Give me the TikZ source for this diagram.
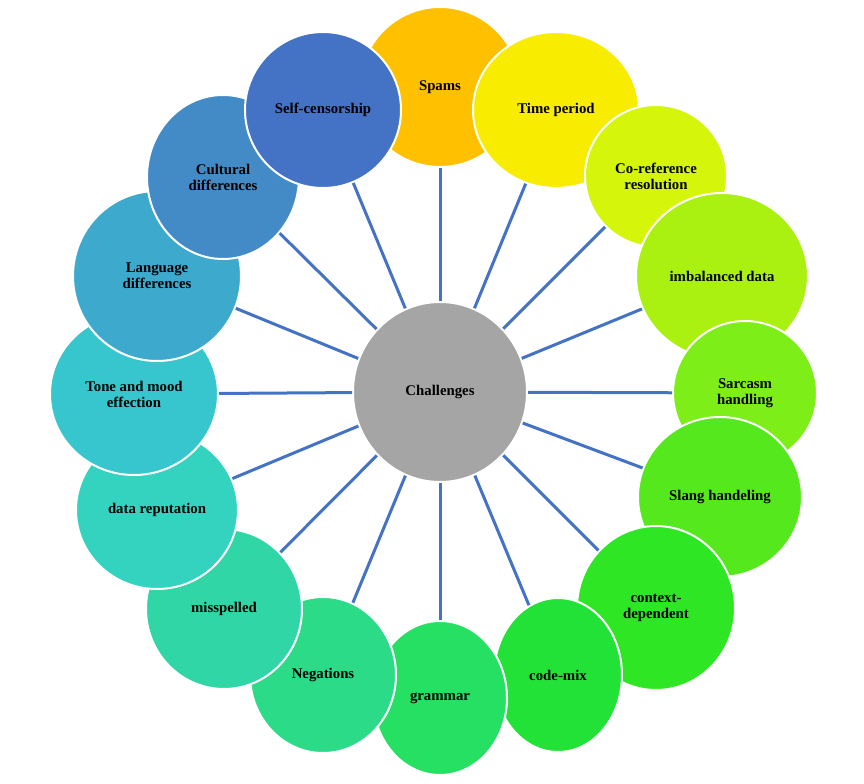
\documentclass[tikz,border=0pt]{standalone}
\usepackage{fontspec}
\setmainfont{Liberation Serif}
\usetikzlibrary{shapes.geometric}
\definecolor{cSp}{HTML}{FFC000}
\definecolor{cTP}{HTML}{F8EC00}
\definecolor{cCR}{HTML}{D5F50B}
\definecolor{cID}{HTML}{AAF011}
\definecolor{cSH}{HTML}{7DEE18}
\definecolor{cSL}{HTML}{55E81C}
\definecolor{cCD}{HTML}{2EE623}
\definecolor{cCM}{HTML}{22E238}
\definecolor{cGR}{HTML}{26E064}
\definecolor{cNE}{HTML}{2BDB88}
\definecolor{cMI}{HTML}{30D6A5}
\definecolor{cDR}{HTML}{33D3C0}
\definecolor{cTM}{HTML}{37C6CD}
\definecolor{cLD}{HTML}{3DA9CC}
\definecolor{cCU}{HTML}{428BC6}
\definecolor{cSC}{HTML}{4472C4}
\definecolor{cC}{HTML}{A5A5A5}
\definecolor{spokeblue}{HTML}{4472C4}
\begin{document}
\begin{tikzpicture}[x=0.75pt, y=-0.75pt,
    blob/.style={ellipse, draw=white, line width=1.5pt, inner sep=0pt, align=center,
        font=\bfseries\fontsize{11.1}{12}\selectfont},
    sz/.style 2 args={minimum width=#1*1.5pt, minimum height=#2*1.5pt},
    spoke/.style={draw=spokeblue, line width=2.25pt}]
    \useasboundingbox (0,0) rectangle (864,784);
    % outer ring, clockwise from the top
    \node[blob, sz={80}{80}, fill=cSp] (Sp) at (440,87) {Spams};
    \node[blob, sz={83}{78}, fill=cTP] (TP) at (556,110) {Time period};
    \node[blob, sz={71}{71}, fill=cCR] (CR) at (656,176) {Co-reference\\resolution};
    \node[blob, sz={86}{83}, fill=cID] (ID) at (722,276) {imbalanced data};
    \node[blob, sz={72}{72}, fill=cSH] (SH) at (745,393) {Sarcasm\\handling};
    \node[blob, sz={82}{80}, fill=cSL] (SL) at (720,497) {Slang handeling};
    \node[blob, sz={79}{82}, fill=cCD] (CD) at (656,608) {context-\\dependent};
    \node[blob, sz={64}{77}, fill=cCM] (CM) at (558,675) {code-mix};
    \node[blob, sz={67}{77}, fill=cGR] (GR) at (440,698) {grammar};
    \node[blob, sz={73}{78}, fill=cNE] (NE) at (323,675) {Negations};
    \node[blob, sz={78}{80}, fill=cMI] (MI) at (224,609) {misspelled};
    \node[blob, sz={81}{79}, fill=cDR] (DR) at (157,510) {data reputation};
    \node[blob, sz={84}{81}, fill=cTM] (TM) at (134,394) {Tone and mood\\effection};
    \node[blob, sz={84}{85}, fill=cLD] (LD) at (157,276) {Language\\differences};
    \node[blob, sz={76}{82}, fill=cCU] (CU) at (223,177) {Cultural\\differences};
    \node[blob, sz={78}{78}, fill=cSC] (SC) at (323,110) {Self-censorship};
    % hub
    \node[blob, sz={87}{90}, fill=cC] (C) at (440,392) {Challenges};
    \draw[spoke] (C) -- (Sp);
    \draw[spoke] (C) -- (TP);
    \draw[spoke] (C) -- (CR);
    \draw[spoke] (C) -- (ID);
    \draw[spoke] (C) -- (SH);
    \draw[spoke] (C) -- (SL);
    \draw[spoke] (C) -- (CD);
    \draw[spoke] (C) -- (CM);
    \draw[spoke] (C) -- (GR);
    \draw[spoke] (C) -- (NE);
    \draw[spoke] (C) -- (MI);
    \draw[spoke] (C) -- (DR);
    \draw[spoke] (C) -- (TM);
    \draw[spoke] (C) -- (LD);
    \draw[spoke] (C) -- (CU);
    \draw[spoke] (C) -- (SC);
\end{tikzpicture}
\end{document}
